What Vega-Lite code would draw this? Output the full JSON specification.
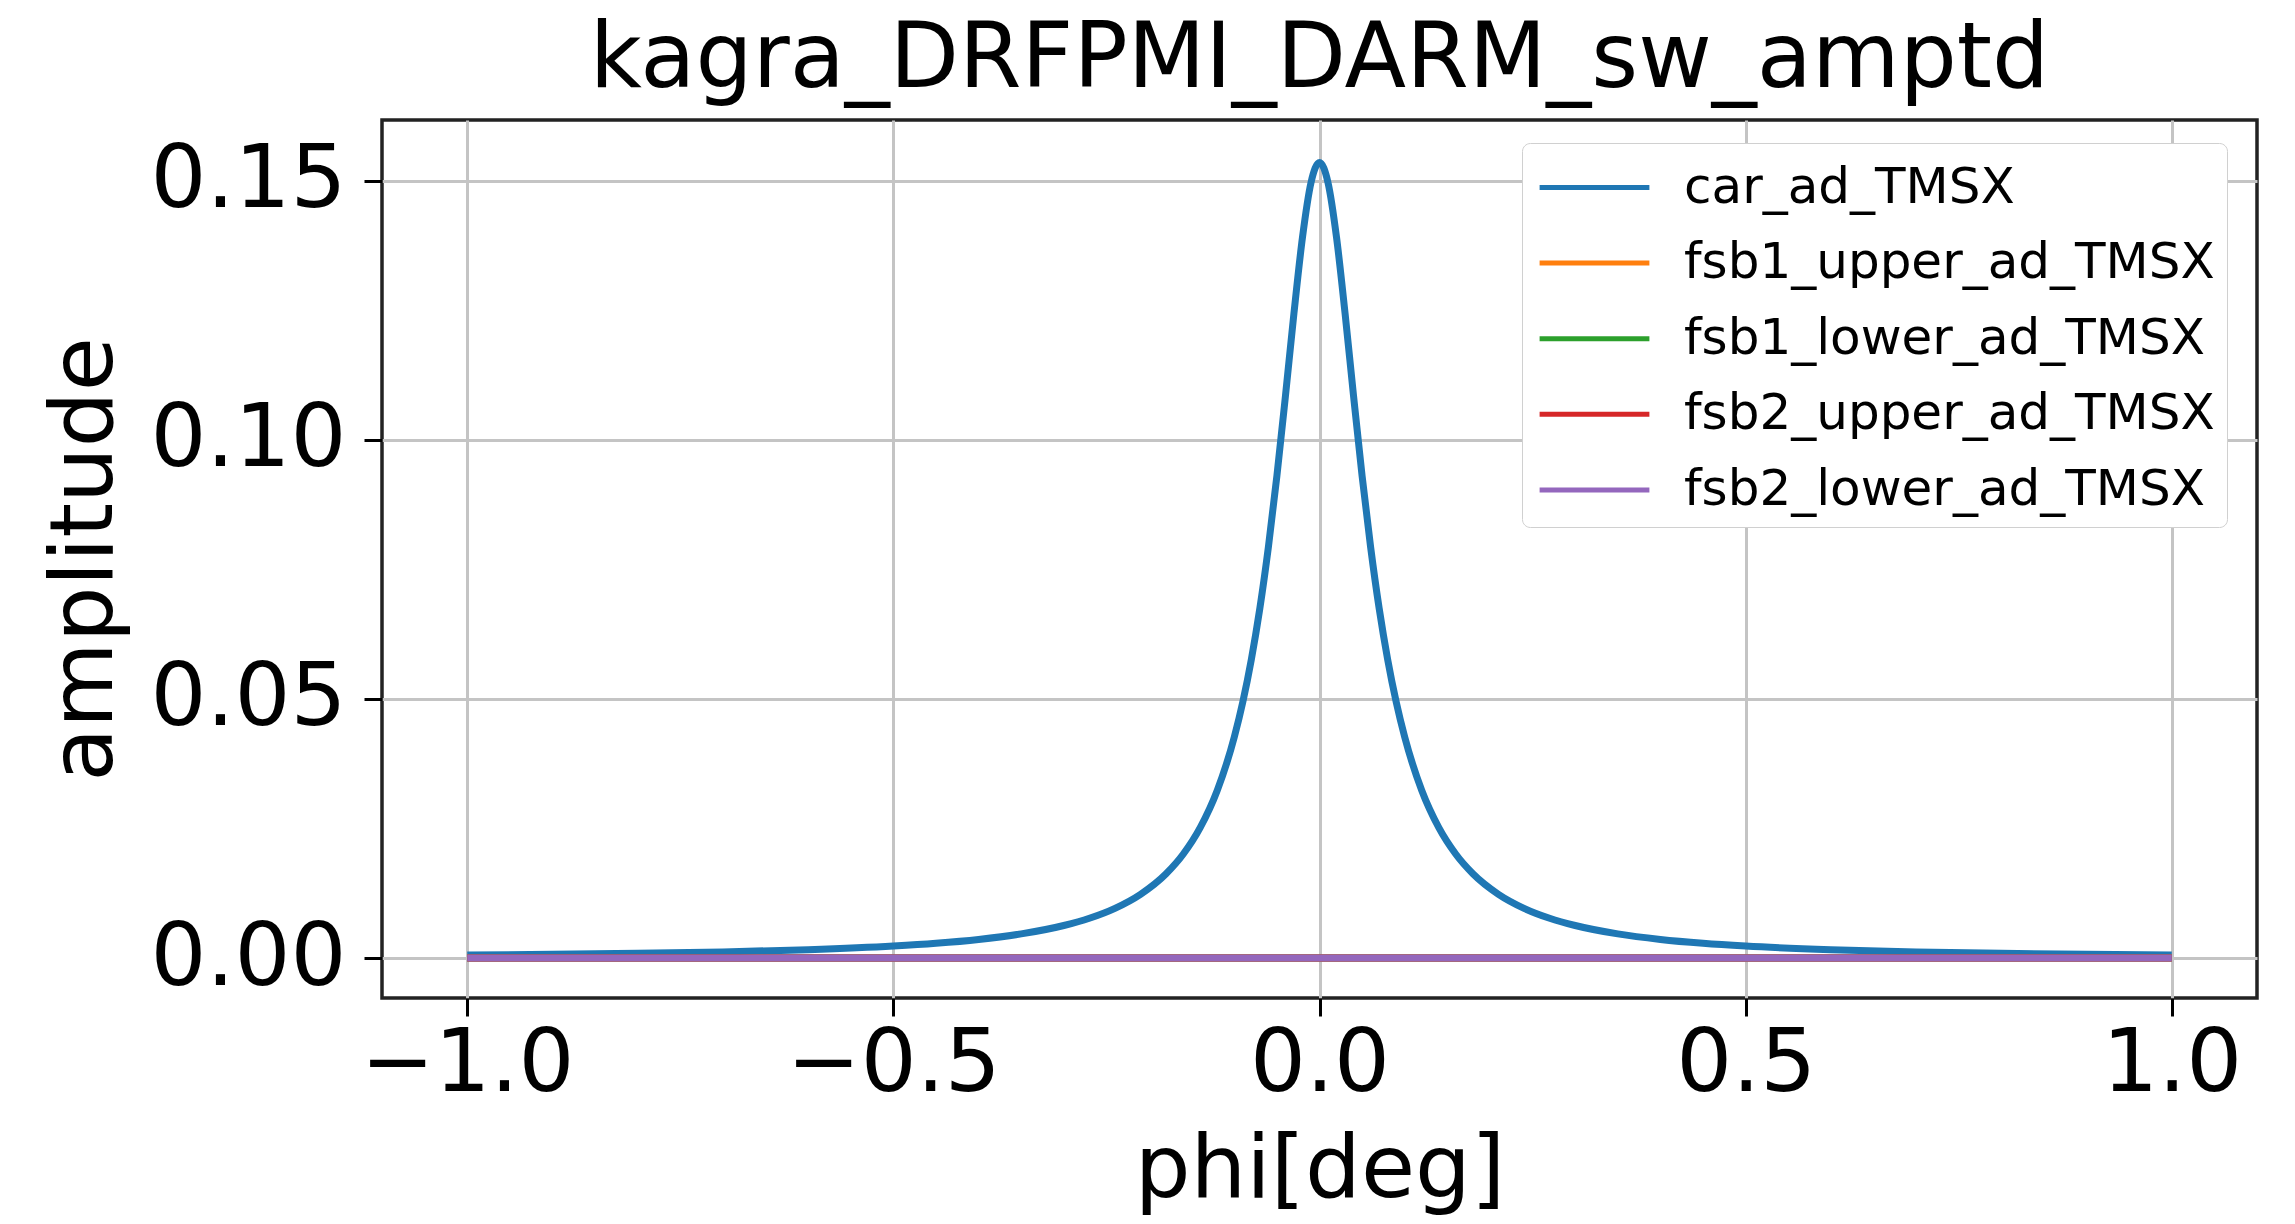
{
  "$schema": "https://vega.github.io/schema/vega-lite/v6.json",
  "autosize": {"type": "none"},
  "padding": {"left": 382, "top": 120, "right": 38, "bottom": 226},
  "width": 1875,
  "height": 878,
  "background": "white",
  "title": {
    "text": "kagra_DRFPMI_DARM_sw_amptd",
    "font": "DejaVu Sans",
    "fontSize": 90,
    "fontWeight": "normal",
    "color": "black",
    "anchor": "middle",
    "frame": "group",
    "baseline": "alphabetic",
    "offset": -57
  },
  "config": {
    "view": {"stroke": "#222222", "strokeWidth": 3.5},
    "axis": {
      "labelFont": "DejaVu Sans",
      "labelFontSize": 88,
      "labelColor": "black",
      "labelLimit": 500,
      "titleFont": "DejaVu Sans",
      "titleFontSize": 88,
      "titleFontWeight": "normal",
      "titleColor": "black",
      "domain": false,
      "tickColor": "black",
      "tickWidth": 3,
      "tickSize": 18,
      "grid": true,
      "gridColor": "#c4c4c4",
      "gridWidth": 3
    }
  },
  "data": {
    "values": [
      {"phi": -1.0, "amp": 0.000588, "series": "car_ad_TMSX"},
      {"phi": -0.9, "amp": 0.000725, "series": "car_ad_TMSX"},
      {"phi": -0.8, "amp": 0.000916, "series": "car_ad_TMSX"},
      {"phi": -0.7, "amp": 0.001195, "series": "car_ad_TMSX"},
      {"phi": -0.6, "amp": 0.001622, "series": "car_ad_TMSX"},
      {"phi": -0.5, "amp": 0.002324, "series": "car_ad_TMSX"},
      {"phi": -0.45, "amp": 0.00286, "series": "car_ad_TMSX"},
      {"phi": -0.4, "amp": 0.003602, "series": "car_ad_TMSX"},
      {"phi": -0.35, "amp": 0.00467, "series": "car_ad_TMSX"},
      {"phi": -0.3, "amp": 0.006288, "series": "car_ad_TMSX"},
      {"phi": -0.27, "amp": 0.00769, "series": "car_ad_TMSX"},
      {"phi": -0.24, "amp": 0.009606, "series": "car_ad_TMSX"},
      {"phi": -0.21, "amp": 0.01231, "series": "car_ad_TMSX"},
      {"phi": -0.18, "amp": 0.01628, "series": "car_ad_TMSX"},
      {"phi": -0.16, "amp": 0.02004, "series": "car_ad_TMSX"},
      {"phi": -0.14, "amp": 0.02517, "series": "car_ad_TMSX"},
      {"phi": -0.12, "amp": 0.03234, "series": "car_ad_TMSX"},
      {"phi": -0.1, "amp": 0.04263, "series": "car_ad_TMSX"},
      {"phi": -0.09, "amp": 0.0494, "series": "car_ad_TMSX"},
      {"phi": -0.08, "amp": 0.0576, "series": "car_ad_TMSX"},
      {"phi": -0.07, "amp": 0.06747, "series": "car_ad_TMSX"},
      {"phi": -0.06, "amp": 0.07927, "series": "car_ad_TMSX"},
      {"phi": -0.05, "amp": 0.09301, "series": "car_ad_TMSX"},
      {"phi": -0.04, "amp": 0.10839, "series": "car_ad_TMSX"},
      {"phi": -0.03, "amp": 0.12438, "series": "car_ad_TMSX"},
      {"phi": -0.02, "amp": 0.13903, "series": "car_ad_TMSX"},
      {"phi": -0.01, "amp": 0.14961, "series": "car_ad_TMSX"},
      {"phi": 0.0, "amp": 0.1535, "series": "car_ad_TMSX"},
      {"phi": 0.01, "amp": 0.14961, "series": "car_ad_TMSX"},
      {"phi": 0.02, "amp": 0.13903, "series": "car_ad_TMSX"},
      {"phi": 0.03, "amp": 0.12438, "series": "car_ad_TMSX"},
      {"phi": 0.04, "amp": 0.10839, "series": "car_ad_TMSX"},
      {"phi": 0.05, "amp": 0.09301, "series": "car_ad_TMSX"},
      {"phi": 0.06, "amp": 0.07927, "series": "car_ad_TMSX"},
      {"phi": 0.07, "amp": 0.06747, "series": "car_ad_TMSX"},
      {"phi": 0.08, "amp": 0.0576, "series": "car_ad_TMSX"},
      {"phi": 0.09, "amp": 0.0494, "series": "car_ad_TMSX"},
      {"phi": 0.1, "amp": 0.04263, "series": "car_ad_TMSX"},
      {"phi": 0.12, "amp": 0.03234, "series": "car_ad_TMSX"},
      {"phi": 0.14, "amp": 0.02517, "series": "car_ad_TMSX"},
      {"phi": 0.16, "amp": 0.02004, "series": "car_ad_TMSX"},
      {"phi": 0.18, "amp": 0.01628, "series": "car_ad_TMSX"},
      {"phi": 0.21, "amp": 0.01231, "series": "car_ad_TMSX"},
      {"phi": 0.24, "amp": 0.009606, "series": "car_ad_TMSX"},
      {"phi": 0.27, "amp": 0.00769, "series": "car_ad_TMSX"},
      {"phi": 0.3, "amp": 0.006288, "series": "car_ad_TMSX"},
      {"phi": 0.35, "amp": 0.00467, "series": "car_ad_TMSX"},
      {"phi": 0.4, "amp": 0.003602, "series": "car_ad_TMSX"},
      {"phi": 0.45, "amp": 0.00286, "series": "car_ad_TMSX"},
      {"phi": 0.5, "amp": 0.002324, "series": "car_ad_TMSX"},
      {"phi": 0.6, "amp": 0.001622, "series": "car_ad_TMSX"},
      {"phi": 0.7, "amp": 0.001195, "series": "car_ad_TMSX"},
      {"phi": 0.8, "amp": 0.000916, "series": "car_ad_TMSX"},
      {"phi": 0.9, "amp": 0.000725, "series": "car_ad_TMSX"},
      {"phi": 1.0, "amp": 0.000588, "series": "car_ad_TMSX"},
      {"phi": -1.0, "amp": 0.0, "series": "fsb1_upper_ad_TMSX"},
      {"phi": -0.5, "amp": 0.0, "series": "fsb1_upper_ad_TMSX"},
      {"phi": 0.0, "amp": 0.0, "series": "fsb1_upper_ad_TMSX"},
      {"phi": 0.5, "amp": 0.0, "series": "fsb1_upper_ad_TMSX"},
      {"phi": 1.0, "amp": 0.0, "series": "fsb1_upper_ad_TMSX"},
      {"phi": -1.0, "amp": 0.0, "series": "fsb1_lower_ad_TMSX"},
      {"phi": -0.5, "amp": 0.0, "series": "fsb1_lower_ad_TMSX"},
      {"phi": 0.0, "amp": 0.0, "series": "fsb1_lower_ad_TMSX"},
      {"phi": 0.5, "amp": 0.0, "series": "fsb1_lower_ad_TMSX"},
      {"phi": 1.0, "amp": 0.0, "series": "fsb1_lower_ad_TMSX"},
      {"phi": -1.0, "amp": 0.0, "series": "fsb2_upper_ad_TMSX"},
      {"phi": -0.5, "amp": 0.0, "series": "fsb2_upper_ad_TMSX"},
      {"phi": 0.0, "amp": 0.0, "series": "fsb2_upper_ad_TMSX"},
      {"phi": 0.5, "amp": 0.0, "series": "fsb2_upper_ad_TMSX"},
      {"phi": 1.0, "amp": 0.0, "series": "fsb2_upper_ad_TMSX"},
      {"phi": -1.0, "amp": 0.0, "series": "fsb2_lower_ad_TMSX"},
      {"phi": -0.5, "amp": 0.0, "series": "fsb2_lower_ad_TMSX"},
      {"phi": 0.0, "amp": 0.0, "series": "fsb2_lower_ad_TMSX"},
      {"phi": 0.5, "amp": 0.0, "series": "fsb2_lower_ad_TMSX"},
      {"phi": 1.0, "amp": 0.0, "series": "fsb2_lower_ad_TMSX"}
    ]
  },
  "mark": {"type": "line", "strokeWidth": 7, "interpolate": "monotone", "clip": true},
  "encoding": {
    "x": {
      "field": "phi",
      "type": "quantitative",
      "scale": {"domain": [-1.1, 1.1], "nice": false, "zero": false},
      "axis": {
        "title": "phi[deg]",
        "values": [-1, -0.5, 0, 0.5, 1],
        "format": ".1f",
        "labelPadding": 4,
        "titlePadding": 18,
        "labelFlush": false
      }
    },
    "y": {
      "field": "amp",
      "type": "quantitative",
      "scale": {"domain": [-0.0077, 0.1617], "nice": false, "zero": false},
      "axis": {
        "title": "amplitude",
        "values": [0, 0.05, 0.1, 0.15],
        "format": ".2f",
        "labelPadding": 18,
        "titlePadding": 53
      }
    },
    "color": {
      "field": "series",
      "type": "nominal",
      "scale": {
        "domain": ["car_ad_TMSX", "fsb1_upper_ad_TMSX", "fsb1_lower_ad_TMSX", "fsb2_upper_ad_TMSX", "fsb2_lower_ad_TMSX"],
        "range": ["#1f77b4", "#ff7f0e", "#2ca02c", "#d62728", "#9467bd"]
      },
      "legend": {
        "title": null,
        "orient": "none",
        "legendX": 1140,
        "legendY": 23,
        "padding": 12,
        "strokeColor": "#d0d0d0",
        "fillColor": "white",
        "cornerRadius": 8,
        "symbolType": "M-1.83,0H1.83",
        "symbolSize": 3600,
        "symbolStrokeWidth": 5,
        "symbolOffset": 28,
        "labelOffset": 57,
        "labelFont": "DejaVu Sans",
        "labelFontSize": 50,
        "labelColor": "black",
        "labelLimit": 1000,
        "rowPadding": 17.6
      }
    }
  }
}
